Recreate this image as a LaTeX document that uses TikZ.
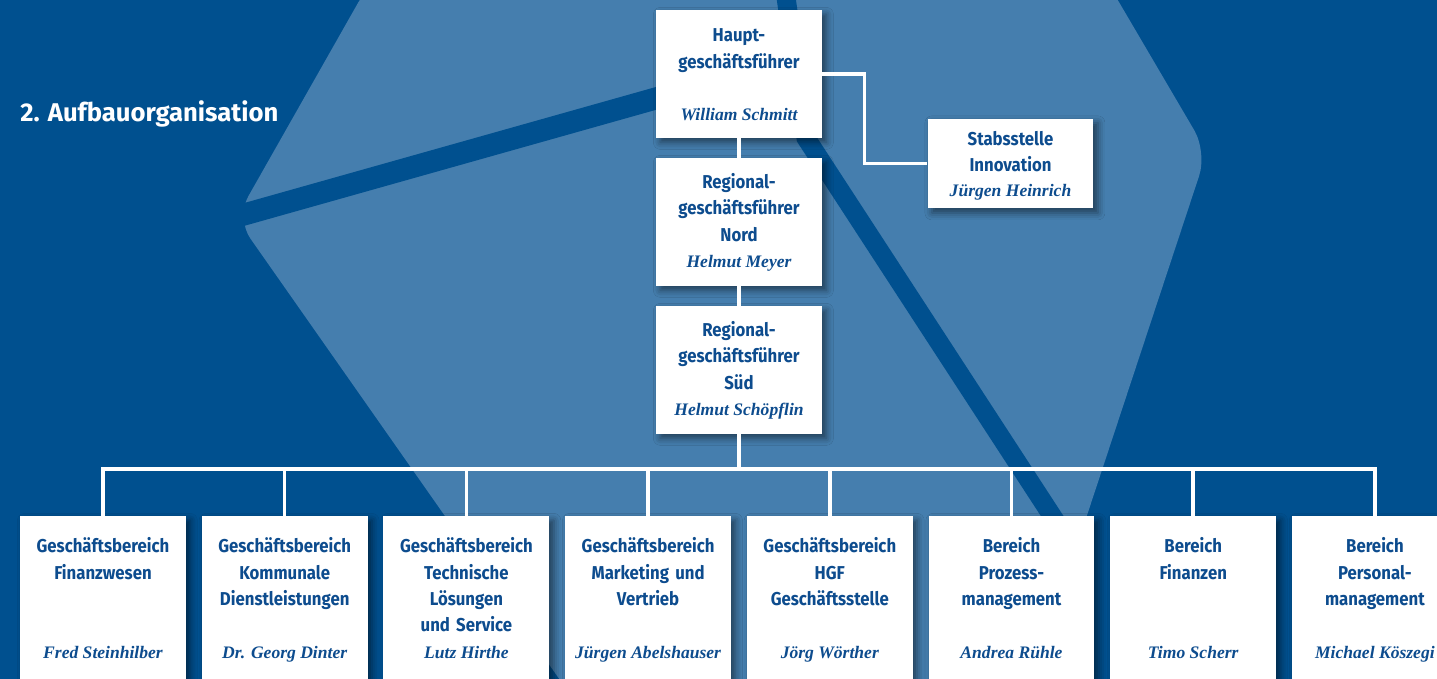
\documentclass[tikz,border=0pt]{standalone}
\usepackage{fontspec}
\setmainfont{Liberation Serif}
\newfontfamily\boxfont{Fira Sans}[FakeStretch=0.9]
\newfontfamily\headfont{Fira Sans}
\usetikzlibrary{positioning,shadows.blur}

\definecolor{bgblue}{HTML}{00508F}
\definecolor{hexblue}{HTML}{457EAE}
\definecolor{txtblue}{HTML}{0D4C8E}

\tikzset{
  orgbox/.style={fill=white, minimum width=3.32cm, minimum height=2.56cm, inner sep=0pt,
    blur shadow={shadow xshift=2.5pt, shadow yshift=-2.5pt, shadow blur radius=4pt, shadow opacity=50}},
  ttl/.style={anchor=base, text width=3.2cm, align=center, inner sep=0pt, text=txtblue,
    font=\boxfont\bfseries\fontsize{10.6}{15}\selectfont},
  who/.style={anchor=base, inner sep=0pt, text=txtblue,
    font=\bfseries\itshape\fontsize{10}{12}\selectfont},
  conn/.style={draw=white, line width=2pt},
}

\begin{document}
\begin{tikzpicture}[x=0.02cm, y=-0.02cm, node distance=2.96cm]
  \useasboundingbox (0,0) rectangle (1437,679);
  \clip (0,0) rectangle (1437,679);
  % backdrop
  \fill[bgblue] (0,0) rectangle (1437,679);
  \fill[hexblue, rounded corners=0.5cm] (371,-20) -- (236,218) -- (574,700) -- (1026,700)
    -- (1207,152) -- (1106,-20) -- cycle;
  \draw[bgblue, line width=0.44cm] (150,241) -- (700,86);
  \draw[bgblue, line width=0.38cm] (785,-10) -- (792,40) -- (806,138) -- (1172,700);

  \node[anchor=base west, inner sep=0pt, text=white,
    font=\headfont\bfseries\fontsize{14.6}{16}\selectfont] (titel) at (20,122) {2. Aufbauorganisation};

  % top column
  \node[orgbox] (hgf) at (739,74) {};
  \node[orgbox, below of=hgf] (nord) {};
  \node[orgbox, below of=nord] (sued) {};
  \node[orgbox, minimum height=1.8cm] (stab) at (1010.5,163.5) {};

  \node[ttl] (hgf-t) at ([yshift=-0.64cm]hgf.north) {Haupt-\\geschäftsführer};
  \node[who] (hgf-n) at ([yshift=-2.22cm]hgf.north) {William Schmitt};
  \node[ttl] (nord-t) at ([yshift=-0.62cm]nord.north) {Regional-\\geschäftsführer\\Nord};
  \node[who] (nord-n) at ([yshift=-2.2cm]nord.north) {Helmut Meyer};
  \node[ttl] (sued-t) at ([yshift=-0.62cm]sued.north) {Regional-\\geschäftsführer\\Süd};
  \node[who] (sued-n) at ([yshift=-2.2cm]sued.north) {Helmut Schöpflin};
  \node[ttl] (stab-t) at ([yshift=-0.54cm]stab.north) {Stabsstelle\\Innovation};
  \node[who] (stab-n) at ([yshift=-1.56cm]stab.north) {Jürgen Heinrich};

  % bottom row
  \foreach \i/\ttl/\nm in {
      1/{Geschäftsbereich\\Finanzwesen}/{Fred Steinhilber},
      2/{Geschäftsbereich\\Kommunale\\Dienstleistungen}/{Dr. Georg Dinter},
      3/{Geschäftsbereich\\Technische\\Lösungen\\und Service}/{Lutz Hirthe},
      4/{Geschäftsbereich\\Marketing und\\Vertrieb}/{Jürgen Abelshauser},
      5/{Geschäftsbereich\\HGF\\Geschäftsstelle}/{Jörg Wörther},
      6/{Bereich\\Prozess-\\management}/{Andrea Rühle},
      7/{Bereich\\Finanzen}/{Timo Scherr},
      8/{Bereich\\Personal-\\management}/{Michael Köszegi}} {
    \node[orgbox, minimum height=4cm] (gb\i) at ({103+181.7*(\i-1)},616) {};
    \node[ttl] (gb\i-t) at ([yshift=-0.74cm]gb\i.north) {\ttl};
    \node[who] (gb\i-n) at ([yshift=-2.86cm]gb\i.north) {\nm};
  }

  % connectors
  \coordinate (bus) at (739,469);
  \draw[conn] (hgf) -- (nord);
  \draw[conn] (nord) -- (sued);
  \draw[conn] (sued) -- (bus);
  \draw[conn] (hgf.east) -- ++(42,0) |- (stab);
  \foreach \i in {1,...,8}
    \draw[conn] (gb\i) |- (bus);
\end{tikzpicture}
\end{document}
